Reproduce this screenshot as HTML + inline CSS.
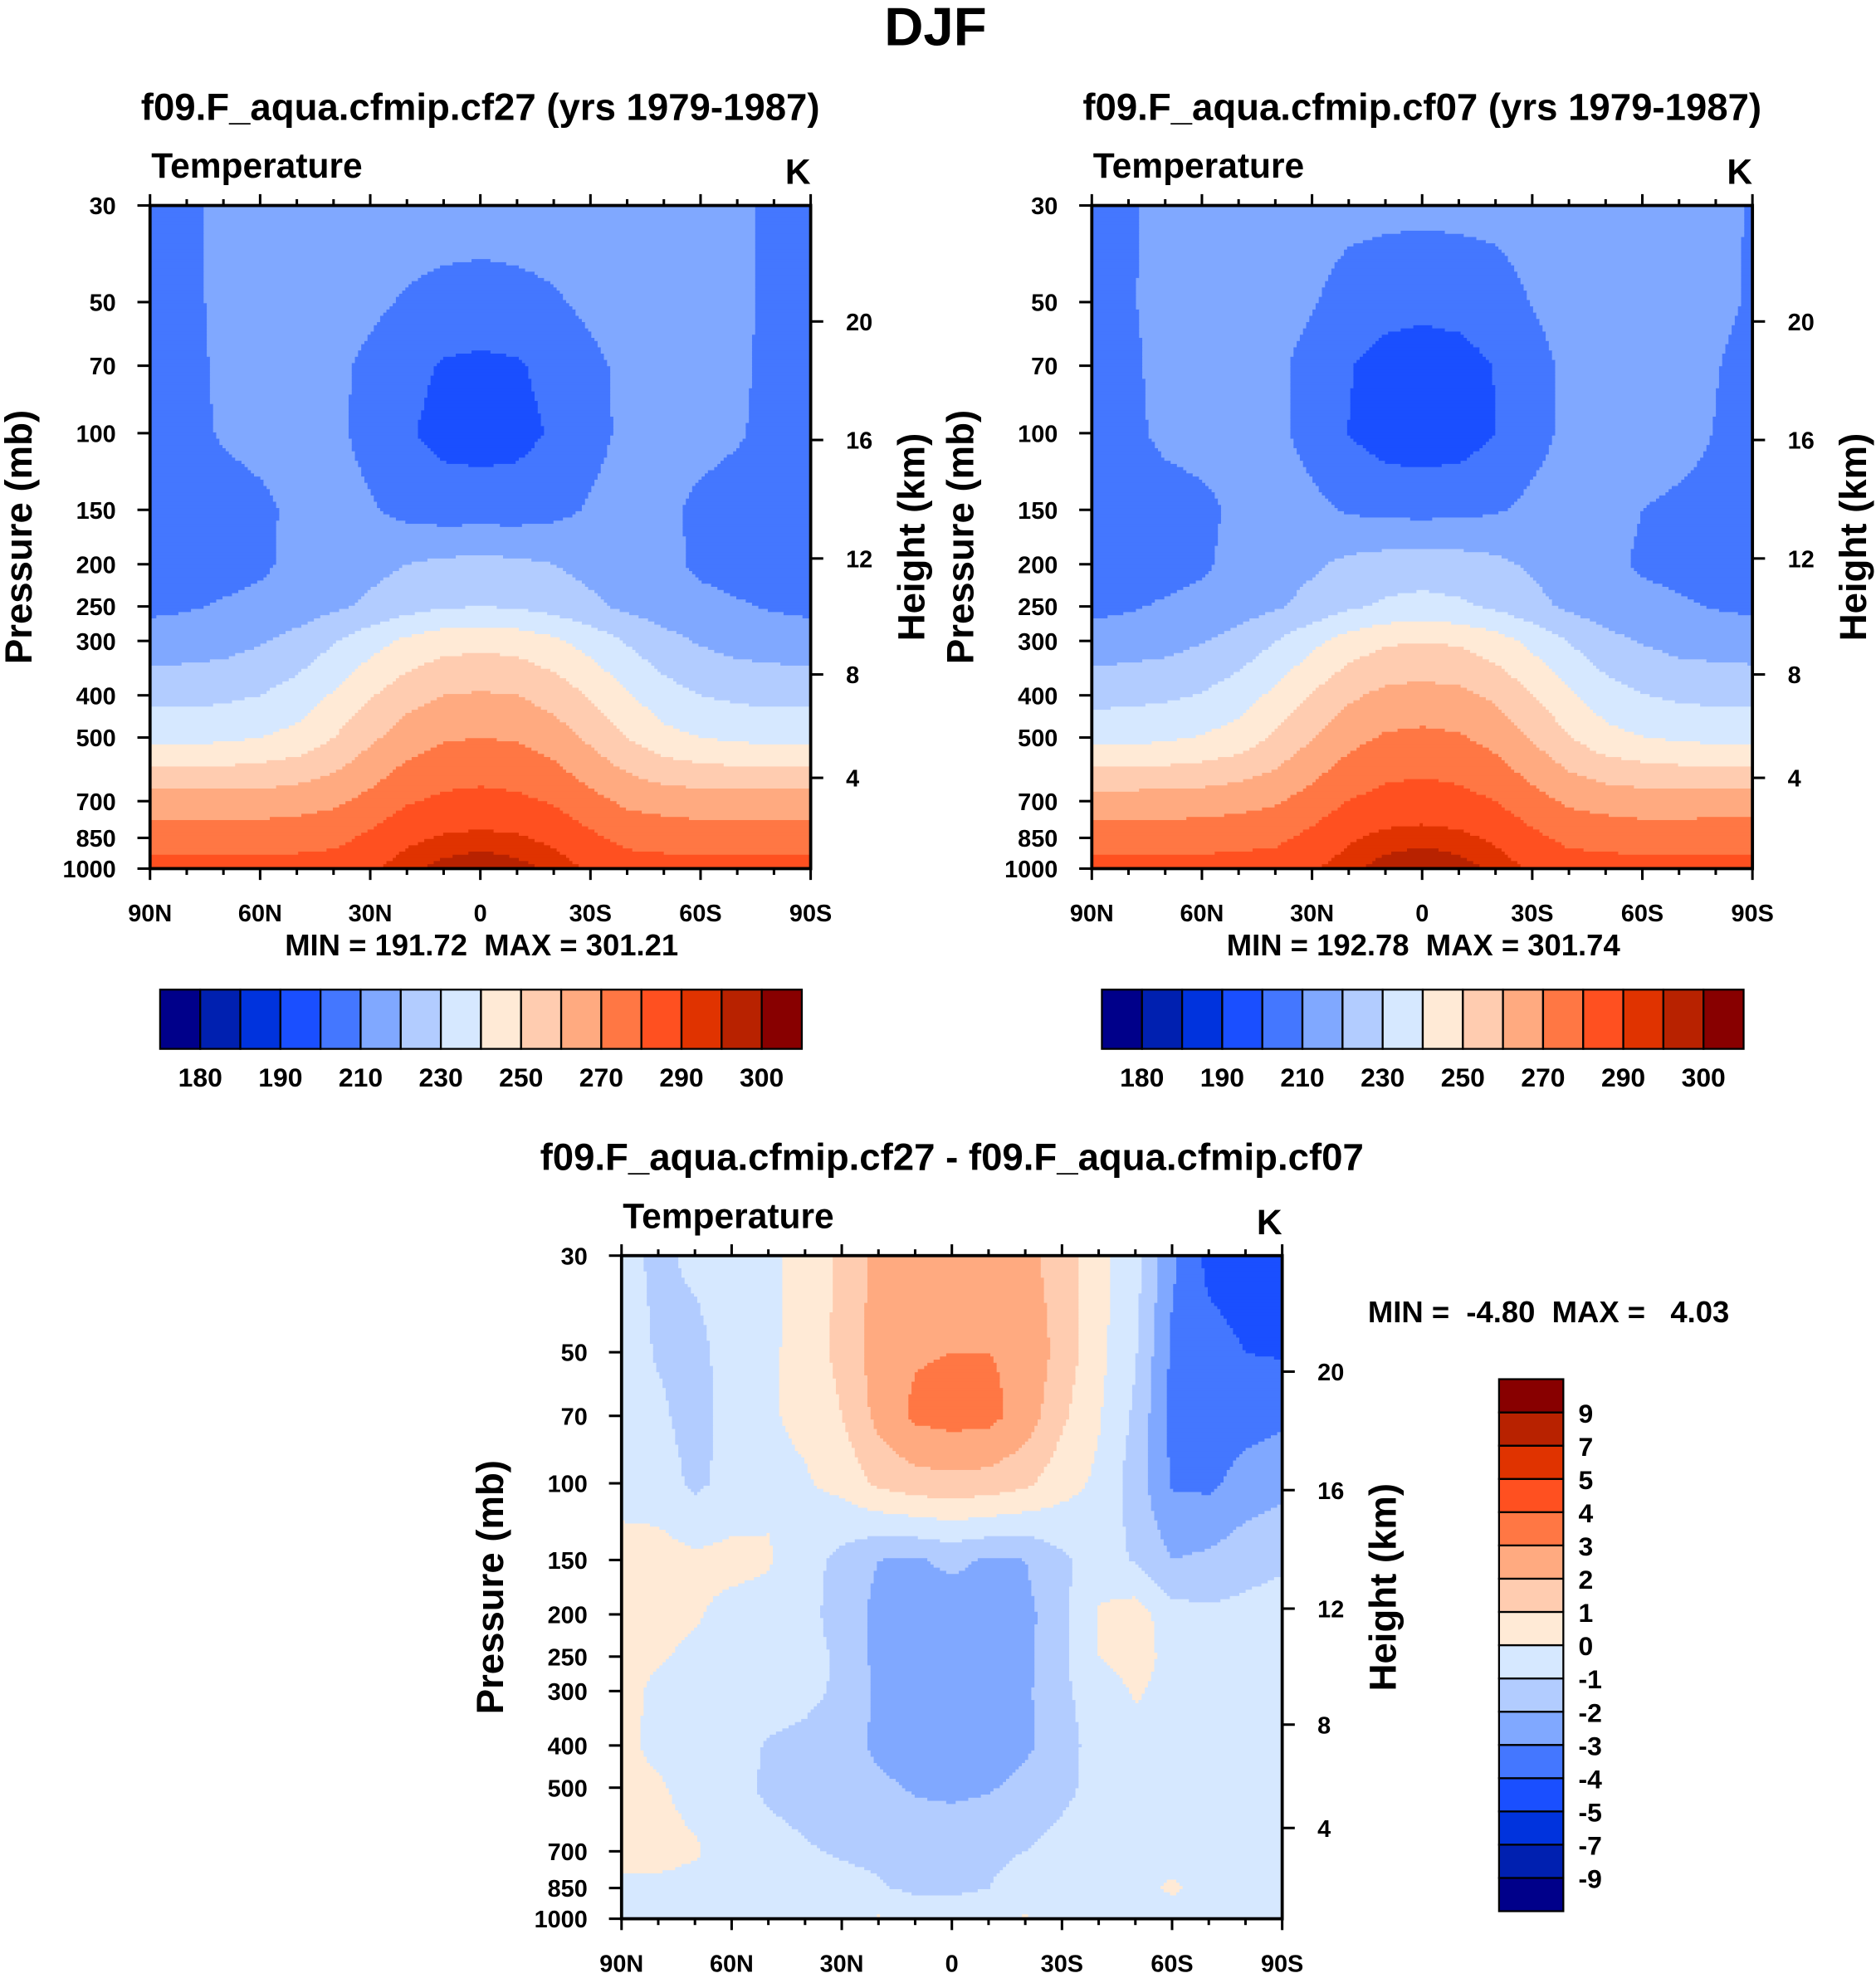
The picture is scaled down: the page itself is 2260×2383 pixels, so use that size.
<!DOCTYPE html>
<html><head><meta charset="utf-8"><style>
html,body{margin:0;padding:0;background:#fff}
svg{display:block}
text{font-family:"Liberation Sans",Arial,sans-serif;font-weight:bold;fill:#000}
</style></head><body>
<svg id="root" width="2260" height="2383" viewBox="0 0 1488 1569" preserveAspectRatio="none" xmlns="http://www.w3.org/2000/svg">
<text x="742" y="36" font-size="43" text-anchor="middle">DJF</text>
<g id="layer"></g>
</svg>
<script>
// ---------- DATA ----------
const pressures = [30,50,70,100,150,200,250,300,400,500,700,850,1000];
const latLabels = ["90N","60N","30N","0","30S","60S","90S"];
const pressureTicks = [30,50,70,100,150,200,250,300,400,500,700,850,1000];
const heightTicks = [20,16,12,8,4];
const tempLevels = [180,185,190,200,210,220,230,240,250,260,270,280,290,295,300];
const tempLabels = ["180","","190","","210","","230","","250","","270","","290","","300"];
const diffLevels = [-9,-7,-5,-4,-3,-2,-1,0,1,2,3,4,5,7,9];
const diffLabels = ["-9","-7","-5","-4","-3","-2","-1","0","1","2","3","4","5","7","9"];
const palette = ["#00008A","#0020B0","#0033DD","#1A4FFF","#4477FF","#80A8FF","#B2CCFF","#D6E8FF","#FFEAD6","#FFCCB0","#FFAA80","#FF7744","#FF5020","#E03300","#B82200","#880000"];
// cf27 temperature (K), rows = pressures (30..1000), cols = 90N..90S step 10
const tempCf27 = [
[205,207,213,215,215,215,215,215,215,215,215,215,215,215,215,215,213,207,205],
[205,208,212,214,214,214,212,209,207,206,207,209,212,214,214,214,212,208,205],
[204,207,212,213,213,212,208,203,199,198,199,203,208,212,213,213,212,207,204],
[205,207,211,213,213,212,207,201,197,196,197,201,207,212,213,213,211,207,205],
[204,205,206,208,212,214,211,207,205,205,205,207,211,214,212,208,206,205,204],
[205,205,206,208,213,215,217,220,222,223,222,220,217,215,213,208,206,205,205],
[208,209,211,213,215,218,222,226,229,230,229,226,222,218,215,213,211,209,208],
[214,215,216,219,223,229,236,242,246,247,246,242,236,229,223,219,216,215,214],
[227,227,228,230,234,241,249,256,260,261,260,256,249,241,234,230,228,227,227],
[237,237,238,240,243,250,258,265,269,270,269,265,258,250,243,240,238,237,237],
[265,265,265,265,266,268,273,279,282,283,282,279,273,268,266,265,265,265,265],
[275,275,275,275,276,277,282,288,291,292,291,288,282,277,276,275,275,275,275],
[284,284,284,284,284,285,289,294,297,299,297,294,289,285,284,284,284,284,284]
];
// difference cf27 - cf07 (K)
const tempDiff = [
[-0.7,-1.2,-0.8,-0.5,-0.2,0.3,1.2,2.3,2.5,2.6,2.5,2.3,1.5,0.3,-0.6,-2.8,-4.3,-4.6,-4.5],
[-0.5,-1.1,-1.3,-0.6,-0.2,0.4,1.3,2.5,2.9,3.0,3.0,2.8,1.6,0.3,-0.9,-3.2,-3.6,-4.0,-4.1],
[-0.4,-0.8,-1.4,-0.6,-0.1,0.2,1.0,2.3,3.2,3.4,3.3,2.6,1.2,0.1,-1.2,-3.3,-3.6,-3.4,-3.2],
[-0.3,-0.5,-1.2,-0.7,-0.2,-0.1,0.3,1.2,1.6,1.7,1.6,1.2,0.4,-0.2,-1.5,-3.1,-3.2,-2.6,-2.3],
[0.3,0.4,0.2,0.3,0.1,-0.6,-1.3,-2.0,-2.1,-1.8,-2.1,-2.0,-1.2,-0.5,-1.1,-2.0,-1.8,-1.4,-1.2],
[0.4,0.3,0.1,-0.3,-0.4,-0.7,-1.4,-2.3,-2.5,-2.5,-2.5,-2.3,-1.3,0.1,0.5,-0.6,-0.8,-0.7,-0.5],
[0.3,0.1,-0.2,-0.3,-0.4,-0.6,-1.2,-2.3,-2.6,-2.7,-2.6,-2.3,-1.2,0.0,0.4,-0.3,-0.4,-0.4,-0.4],
[0.3,-0.2,-0.3,-0.4,-0.5,-0.7,-1.2,-2.2,-2.6,-2.7,-2.6,-2.2,-1.2,-0.5,0.1,-0.3,-0.3,-0.3,-0.3],
[0.2,-0.2,-0.3,-0.5,-1.1,-1.3,-1.6,-2.2,-2.5,-2.6,-2.5,-2.2,-1.4,-0.6,-0.3,-0.3,-0.3,-0.3,-0.6],
[0.2,0.1,-0.3,-0.6,-1.2,-1.4,-1.6,-1.8,-2.1,-2.2,-2.1,-1.7,-1.3,-0.6,-0.3,-0.3,-0.3,-0.3,-0.4],
[0.3,0.3,0.1,-0.4,-0.6,-0.9,-1.1,-1.2,-1.4,-1.4,-1.2,-1.0,-0.6,-0.4,-0.3,-0.3,-0.3,-0.3,-0.3],
[-0.2,-0.2,-0.3,-0.4,-0.5,-0.6,-0.7,-0.9,-1.2,-1.2,-1.0,-0.6,-0.4,-0.3,-0.2,0.1,-0.2,-0.3,-0.3],
[-0.3,-0.3,-0.3,-0.3,-0.3,-0.3,-0.3,0.1,-0.3,-0.4,-0.3,0.1,-0.3,-0.3,-0.3,-0.3,-0.3,-0.3,-0.3]
];
// cf07 = cf27 - diff
const tempCf07 = tempCf27.map((r,i)=>r.map((v,j)=>v - tempDiff[i][j]));

// ---------- DRAW ----------
const NS="http://www.w3.org/2000/svg";
const layer=document.getElementById('layer');
function mk(tag,attrs,parent){const e=document.createElementNS(NS,tag);for(const k in attrs)e.setAttribute(k,attrs[k]);(parent||layer).appendChild(e);return e;}
function txt(s,attrs,parent){const e=mk('text',attrs,parent);e.textContent=s;return e;}
const LP=Math.log(1000/30);
function levelIndex(v,levels){let k=0;while(k<levels.length&&v>=levels[k])k++;return k;}
function sample(grid,fx,fy){
  const cx=Math.min(Math.max(fx*18,0),18);
  const lp=Math.log(30)+fy*LP;
  let r=0;while(r<pressures.length-2&&Math.log(pressures[r+1])<lp)r++;
  const t=Math.min(Math.max((lp-Math.log(pressures[r]))/(Math.log(pressures[r+1])-Math.log(pressures[r])),0),1);
  const c=Math.min(Math.floor(cx),17);const s=cx-c;
  const a=grid[r][c]*(1-s)+grid[r][c+1]*s;
  const b=grid[r+1][c]*(1-s)+grid[r+1][c+1]*s;
  return a*(1-t)+b*t;
}
function panel(name,x0,y0,grid,levels,title,minmax,mmPos){
  const w=524,h=526;
  const g=mk('g',{});
  
  
  const fill=mk('g',{},g);
  
  
  const step=2.5;
  for(let y=0;y<h;y+=step){
    const fy=(y+step/2)/h;
    let runStart=0,runIdx=null;
    const n=Math.ceil(w/step);
    for(let i=0;i<=n;i++){
      let idx=null;
      if(i<n){idx=levelIndex(sample(grid,(i*step+step/2)/w,fy),levels);}
      if(i===n||idx!==runIdx){
        if(runIdx!==null){
          const r=mk('rect',{x:x0+runStart*step,y:y0+y,width:Math.min((i-runStart)*step,w-runStart*step)+0.4,height:Math.min(step,h-y)+0.4,fill:palette[runIdx]},fill);
          
          
        }
        runStart=i;runIdx=idx;
      }
    }
  }
  const fr=mk('rect',{x:x0,y:y0,width:w,height:h,fill:'none',stroke:'#000','stroke-width':2.5},g);
  
  for(let k=0;k<=18;k++){
    const x=x0+k*w/18, major=k%3===0, L=major?9:5;
    mk('line',{x1:x,y1:y0+h,x2:x,y2:y0+h+L,stroke:'#000','stroke-width':2},g);
    mk('line',{x1:x,y1:y0,x2:x,y2:y0-L,stroke:'#000','stroke-width':2},g);
  }
  latLabels.forEach((s,k)=>{const t=txt(s,{x:x0+k*w/6,y:y0+h+42,'font-size':19,'text-anchor':'middle'},g);});
  pressureTicks.forEach(p=>{
    const y=y0+Math.log(p/30)/LP*h;
    mk('line',{x1:x0,y1:y,x2:x0-10,y2:y,stroke:'#000','stroke-width':2},g);
    const t=txt(String(p),{x:x0-27,y:y+7,'font-size':19,'text-anchor':'end'},g);
    
  });
  const hy=[255,349,443,535,617];
  heightTicks.forEach((hv,k)=>{
    const y=y0+hy[k]-163;
    mk('line',{x1:x0+w,y1:y,x2:x0+w+10,y2:y,stroke:'#000','stroke-width':2},g);
    const t=txt(String(hv),{x:x0+w+28,y:y+7,'font-size':19},g);
    
  });
  let t;
  t=txt(title,{x:x0+w/2,y:y0-68,'font-size':30,'text-anchor':'middle'},g);
  t=txt('Temperature',{x:x0+1,y:y0-22,'font-size':28},g);
  t=txt('K',{x:x0+w,y:y0-17,'font-size':28,'text-anchor':'end'},g);
  t=txt('Pressure (mb)',{x:0,y:0,'font-size':30,'text-anchor':'middle',transform:`translate(${x0-94},${y0+263}) rotate(-90)`},g);
  t=txt('Height (km)',{x:0,y:0,'font-size':30,'text-anchor':'middle',transform:`translate(${x0+w+90},${y0+263}) rotate(-90)`},g);
  t=txt(minmax,{x:mmPos[0],y:mmPos[1],'font-size':24,'text-anchor':mmPos[2]},g);
  t.style.whiteSpace='pre';
}
function hbar(name,x0,y0,w,h,labels){
  const g=mk('g',{});
  
  const bw=w/16;
  palette.forEach((c,i)=>{const r=mk('rect',{x:x0+i*bw,y:y0,width:bw,height:h,fill:c,stroke:'#000','stroke-width':1.5},g);});
  labels.forEach((s,k)=>{if(!s)return;const t=txt(s,{x:x0+(k+1)*bw,y:y0+h+30,'font-size':21,'text-anchor':'middle'},g);});
}
function vbar(name,x0,y0,w,h,labels){
  const g=mk('g',{});
  
  const bh=h/16;
  palette.forEach((c,i)=>{const r=mk('rect',{x:x0,y:y0+(15-i)*bh,width:w,height:bh,fill:c,stroke:'#000','stroke-width':1.5},g);});
  labels.forEach((s,k)=>{const t=txt(s,{x:x0+w+12,y:y0+(15-k)*bh+8,'font-size':21},g);});
}
panel('cf27-panel',119,163,tempCf27,tempLevels,'f09.F_aqua.cfmip.cf27 (yrs 1979-1987)','MIN = 191.72  MAX = 301.21',[382,758,'middle']);
panel('cf07-panel',866,163,tempCf07,tempLevels,'f09.F_aqua.cfmip.cf07 (yrs 1979-1987)','MIN = 192.78  MAX = 301.74',[1129,758,'middle']);
panel('diff-panel',493,996,tempDiff,diffLevels,'f09.F_aqua.cfmip.cf27 - f09.F_aqua.cfmip.cf07','MIN =  -4.80  MAX =   4.03',[1085,1049,'start']);
hbar('cf27-colorbar',127,785,509,47,tempLabels);
hbar('cf07-colorbar',874,785,509,47,tempLabels);
vbar('diff-colorbar',1189,1094,51,422,diffLabels);
</script>
</body></html>
